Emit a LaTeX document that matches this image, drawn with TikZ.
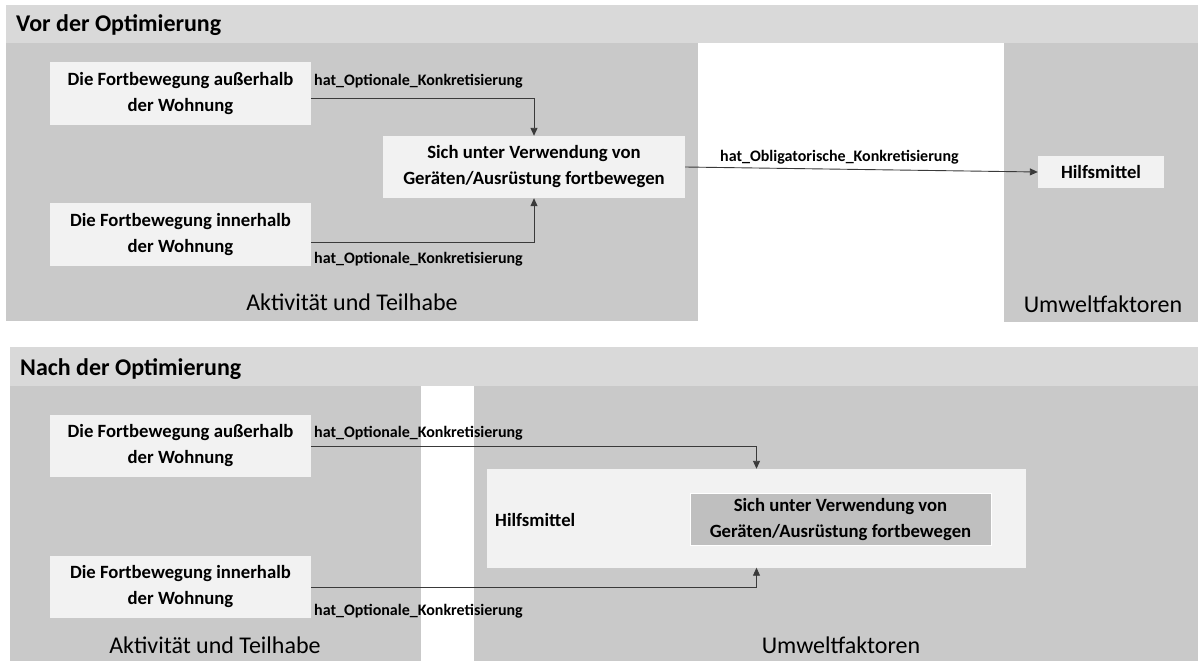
\documentclass[tikz,border=0pt]{standalone}
\usepackage{fontspec}
\setmainfont{Carlito}
\usetikzlibrary{arrows.meta}
\definecolor{headgray}{HTML}{D9D9D9}
\definecolor{areagray}{HTML}{C9C9C9}
\definecolor{boxfill}{HTML}{F2F2F2}
\definecolor{innerfill}{HTML}{BFBFBF}
\definecolor{linecol}{HTML}{3A3A3A}
\begin{document}
\begin{tikzpicture}[x=1pt,y=-1pt,
  header/.style={fill=headgray},
  area/.style={fill=areagray},
  concept/.style={fill=boxfill, font=\fontsize{18.7}{26}\selectfont\bfseries,
    align=center, inner sep=0pt},
  rel/.style={font=\fontsize{16}{19}\selectfont\bfseries, inner sep=0pt, anchor=west},
  region/.style={font=\fontsize{24}{28}\selectfont, inner sep=0pt},
  paneltitle/.style={font=\fontsize{24}{28}\selectfont\bfseries, inner sep=0pt, anchor=base west},
  link/.style={draw=linecol, line width=0.9pt, -{Triangle[length=8pt,width=7pt]}}
]
\useasboundingbox (0,0) rectangle (1198,661);
\fill[white] (0,0) rectangle (1198,661);

% ---------- upper panel: before ----------
\fill[header] (6,5.5) rectangle (1198,43.5);
\fill[area] (6,43.5) rectangle (698,321);
\fill[area] (1004,43.5) rectangle (1198,322);
\node[paneltitle] (t1) at (16,31.5) {Vor der Optimierung};

\node[concept, minimum width=261pt, minimum height=63pt] (a1) at (180.5,93.5)
  {Die Fortbewegung außerhalb\\der Wohnung};
\node[concept, minimum width=261pt, minimum height=63pt] (a2) at (180.5,234.5)
  {Die Fortbewegung innerhalb\\der Wohnung};
\node[concept, minimum width=302pt, minimum height=62pt] (ac) at (534,167)
  {Sich unter Verwendung von\\Geräten/Ausrüstung fortbewegen};
\node[concept, minimum width=126pt, minimum height=32pt] (ah) at (1101,172)
  {Hilfsmittel};

\draw[link] ([yshift=-4.8pt]a1.east) -| (ac.north);
\draw[link] ([yshift=-7.8pt]a2.east) -| (ac.south);
\draw[link] (ac.east) -- (ah.west);

\node[rel] (la1) at (314,81) {hat\_Optionale\_Konkretisierung};
\node[rel] (la2) at (314,259) {hat\_Optionale\_Konkretisierung};
\node[rel] (la3) at (720,157.7) {hat\_Obligatorische\_Konkretisierung};

\node[region] (ra1) at (352,302) {Aktivität und Teilhabe};
\node[region] (ra2) at (1103,304) {Umweltfaktoren};

% ---------- lower panel: after ----------
\fill[header] (10,346.7) rectangle (1198,385.5);
\fill[area] (10,385.5) rectangle (421,661);
\fill[area] (473.5,385.5) rectangle (1198,661);
\node[paneltitle] (t2) at (20,375) {Nach der Optimierung};

\node[concept, minimum width=261pt, minimum height=62pt] (b1) at (180.5,446)
  {Die Fortbewegung außerhalb\\der Wohnung};
\node[concept, minimum width=261pt, minimum height=62pt] (b2) at (180.5,587)
  {Die Fortbewegung innerhalb\\der Wohnung};
\node[fill=boxfill, inner sep=0pt, minimum width=539pt, minimum height=98.5pt] (bh) at (756.5,518.25) {};
\node[font=\fontsize{18.7}{26}\selectfont\bfseries, inner sep=0pt, anchor=west] (bhl) at (495,520) {Hilfsmittel};
\node[concept, fill=innerfill, draw=white, line width=1pt, minimum width=301pt, minimum height=52pt] (bc) at (840.5,519.2)
  {Sich unter Verwendung von\\Geräten/Ausrüstung fortbewegen};

\draw[link] (b1.east) -| (bh.north);
\draw[link] (b2.east) -| (bh.south);

\node[rel] (lb1) at (314,433) {hat\_Optionale\_Konkretisierung};
\node[rel] (lb2) at (314,611.7) {hat\_Optionale\_Konkretisierung};

\node[region] (rb1) at (215,645) {Aktivität und Teilhabe};
\node[region] (rb2) at (841,645) {Umweltfaktoren};
\end{tikzpicture}
\end{document}
